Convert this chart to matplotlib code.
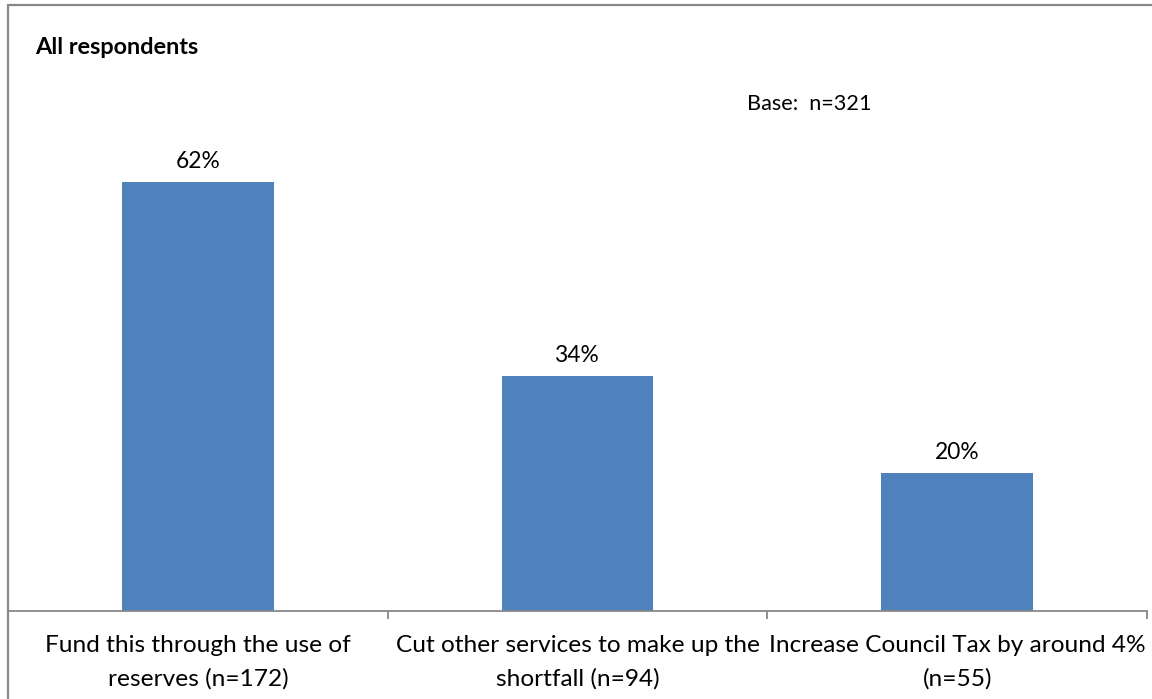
import matplotlib
matplotlib.use("Agg")
import matplotlib.pyplot as plt
from matplotlib.patches import Rectangle

categories = [
    "Fund this through the use of\nreserves (n=172)",
    "Cut other services to make up the\nshortfall (n=94)",
    "Increase Council Tax by around 4%\n(n=55)",
]
values = [62, 34, 20]
value_labels = ["62%", "34%", "20%"]
title = "All respondents"
base_note = "Base:  n=321"

W, H = 1152, 699
fig = plt.figure(figsize=(W / 100, H / 100), dpi=100)
plt.rcParams["font.family"] = ["Lato", "DejaVu Sans"]

# outer chart border (only its top and left edges fall inside the image)
fig.patches.append(Rectangle((7.5 / W, -0.5), 2, 1.5 - 4.5 / H, transform=fig.transFigure,
                             fill=False, edgecolor="#888888", linewidth=1.6))

ax_bottom = 611
scale = 6.92
ymax = 70
ax_top = ax_bottom - ymax * scale
ax = fig.add_axes([8 / W, (H - ax_bottom) / H, (1147 - 8) / W, (ax_bottom - ax_top) / H])

x = list(range(len(values)))
ax.bar(x, values, width=0.4, color="#4F81BD", zorder=2)
ax.set_xlim(-0.5, len(values) - 0.5)
ax.set_ylim(0, ymax)

for xi, v, lab in zip(x, values, value_labels):
    ax.annotate(lab, (xi, v), xytext=(0, 10), textcoords="offset pixels",
                ha="center", va="bottom", fontsize=16.4, color="black")

for s in ["top", "right", "left"]:
    ax.spines[s].set_visible(False)
ax.spines["bottom"].set_color("#888888")
ax.spines["bottom"].set_linewidth(1.3)
ax.set_yticks([])

ax.set_xticks(x)
ax.set_xticklabels(categories, fontsize=17.6, linespacing=1.72)
ax.tick_params(axis="x", which="major", length=0, pad=17)
ax.set_xticks([i - 0.5 for i in range(len(values) + 1)], minor=True)
ax.tick_params(axis="x", which="minor", length=6, width=1.3, color="#888888", direction="out")

fig.text(35 / W, 1 - 47 / H, title, fontsize=16.9, fontweight="bold", ha="left", va="center")
fig.text(747 / W, 1 - 104 / H, base_note, fontsize=15.6, ha="left", va="center")

fig.savefig("out.png", dpi=100)
